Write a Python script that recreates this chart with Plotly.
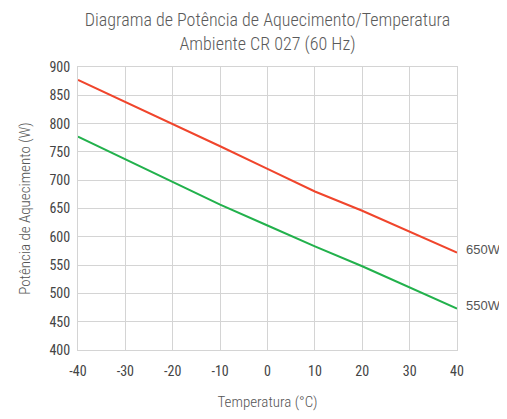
import plotly.graph_objects as go

temps = [-40, -30, -20, -10, 0, 10, 20, 30, 40]
power_650 = [877, 838, 800, 760, 720, 680, 646, 609, 572]
power_550 = [777, 737, 698, 657, 620, 583, 548, 510, 473]
series_labels = ["650W", "550W"]
x_ticks = [-40, -30, -20, -10, 0, 10, 20, 30, 40]
x_tick_text = ["-40", "-30", "-20", "-10", "0", "10", "20", "30", "40"]
y_ticks = [400, 450, 500, 550, 600, 650, 700, 750, 800, 850, 900]

cond = "Liberation Sans Narrow, Roboto Condensed, Arial Narrow, Roboto, sans-serif"

fig = go.Figure()
fig.add_trace(go.Scatter(x=temps, y=power_650, mode="lines",
                         line=dict(color="#f0452c", width=2), name=series_labels[0]))
fig.add_trace(go.Scatter(x=temps, y=power_550, mode="lines",
                         line=dict(color="#22b14c", width=2), name=series_labels[1]))

for lbl, ys in zip(series_labels, [power_650, power_550]):
    fig.add_annotation(x=temps[-1], y=ys[-1], text=lbl, showarrow=False,
                       xanchor="left", yanchor="middle", xshift=7, yshift=3,
                       font=dict(family="Liberation Sans, Arial, sans-serif", size=13, color="#555555"))

fig.update_layout(
    width=491, height=403,
    margin=dict(l=70, r=42, t=59, b=61, autoexpand=False),
    paper_bgcolor="white", plot_bgcolor="white",
    showlegend=False,
    title=dict(text="Diagrama de Potência de Aquecimento/Temperatura<br>Ambiente CR 027 (60 Hz)",
               xref="paper", x=0.5, xanchor="center", yref="container", y=0.955, yanchor="top",
               font=dict(family=cond, size=18, color="#5a5a5a", weight=300)),
)
fig.update_xaxes(range=[-40, 40], tickvals=x_ticks, ticktext=x_tick_text, showgrid=True,
                 gridcolor="#d4d4d4", automargin=False, ticklabelstandoff=8,
                 zeroline=False, showline=True, linecolor="#d4d4d4", mirror=True,
                 ticks="", tickfont=dict(family=cond, size=14, color="#444444"),
                 title=dict(text="Temperatura (°C)", font=dict(family=cond, size=15, color="#555555", weight=300),
                            standoff=25))
fig.update_yaxes(range=[400, 900], tickvals=y_ticks, showgrid=True, gridcolor="#d4d4d4",
                 automargin=False, ticklabelstandoff=4,
                 zeroline=False, showline=True, linecolor="#d4d4d4", mirror=True,
                 ticks="", tickfont=dict(family=cond, size=14, color="#444444"),
                 title=dict(text="Potência de Aquecimento (W)", font=dict(family=cond, size=15, color="#555555", weight=300),
                            standoff=15))

fig.write_html("out.html")
